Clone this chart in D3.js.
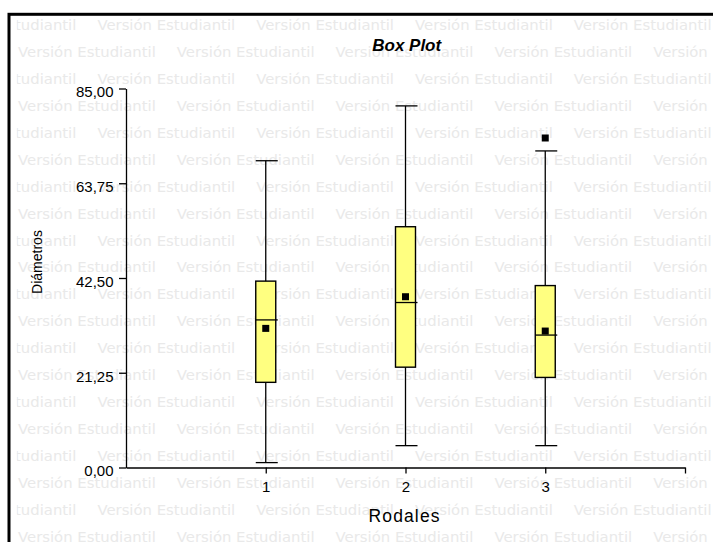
<!DOCTYPE html>
<html>
<head>
<meta charset="utf-8">
<script src="https://cdn.jsdelivr.net/npm/d3@7"></script>
<style>
  html, body { margin: 0; padding: 0; background: #fff; }
  svg { display: block; }
</style>
</head>
<body>
<svg id="chart" width="713" height="542"></svg>
<script>
// ---- data ----
const categories = ["1", "2", "3"];
const mins    = [1.1, 4.9, 4.9];
const q1s     = [19.1, 22.5, 20.2];
const medians = [33.1, 37.0, 29.7];
const q3s     = [41.8, 54.0, 40.8];
const maxs    = [68.8, 81.1, 71.0];
const means   = [31.2, 38.3, 30.6];
const outliers = [[], [], [73.9]];
const yTicks  = [0, 21.25, 42.5, 63.75, 85];
const title = "Box Plot";
const xLabel = "Rodales";
const yLabel = "Diámetros";
const watermark = "Versión Estudiantil";

// ---- drawing ----
const svg = d3.select("#chart");
const W = 713, H = 542;

// watermark (clipped to frame interior)
svg.append("clipPath").attr("id", "clipFrame")
  .append("rect").attr("x", 16.8).attr("y", 15.8).attr("width", W).attr("height", H);
const wm = svg.append("g").attr("clip-path", "url(#clipFrame)")
  .attr("font-family", "DejaVu Sans").attr("font-size", "14.85px").attr("fill", "#e9e9e9");
const period = 158.8;
for (let i = 0; i < 20; i++) {
  const base = 30 + 26.94 * i;
  const start = (i % 2 === 0) ? 18 - period / 2 : 18;
  for (let k = 0; k < 6; k++) {
    wm.append("text").attr("x", start + k * period).attr("y", base).text(watermark);
  }
}

// frame
svg.append("rect").attr("x", 9).attr("y", 14.3).attr("width", 900).attr("height", 800)
  .attr("fill", "none").attr("stroke", "#000").attr("stroke-width", 3);

const x = d3.scaleLinear().domain([0, 4]).range([126, 685]);
const y = d3.scaleLinear().domain([0, 85]).range([467.5, 88.5]);

// axes
const fmt = d => d3.format(".2f")(d).replace(".", ",");
const yAxis = svg.append("g").attr("transform", "translate(126,0)")
  .call(d3.axisLeft(y).tickValues(yTicks).tickSize(7).tickPadding(5.5).tickSizeOuter(0).tickFormat(fmt));
yAxis.selectAll("text").attr("dy", "0.55em");

const xAxis = svg.append("g").attr("transform", "translate(0,467.5)")
  .call(d3.axisBottom(x).tickValues([1, 2, 3, 4]).tickSize(6).tickPadding(8).tickSizeOuter(0)
    .tickFormat(d => d <= categories.length ? categories[d - 1] : ""));

[yAxis, xAxis].forEach(a => {
  a.attr("font-family", "Liberation Sans, Arial, sans-serif").attr("font-size", "15px");
  a.selectAll("text").attr("fill", "#000");
  a.selectAll("path, line").attr("stroke", "#000").attr("stroke-width", 1.3);
});

// boxes
const g = svg.append("g").attr("stroke", "#000");
categories.forEach((c, i) => {
  const cx = x(i + 1);
  // whisker
  g.append("line").attr("x1", cx).attr("x2", cx).attr("y1", y(mins[i])).attr("y2", y(maxs[i]))
    .attr("stroke-width", 1.3);
  g.append("line").attr("x1", cx - 10).attr("x2", cx + 12).attr("y1", y(maxs[i])).attr("y2", y(maxs[i]))
    .attr("stroke-width", 1.3);
  g.append("line").attr("x1", cx - 10).attr("x2", cx + 12).attr("y1", y(mins[i])).attr("y2", y(mins[i]))
    .attr("stroke-width", 1.3);
  // box
  g.append("rect").attr("x", cx - 10).attr("width", 20)
    .attr("y", y(q3s[i])).attr("height", y(q1s[i]) - y(q3s[i]))
    .attr("fill", "#ffff80").attr("stroke-width", 1.4);
  // median
  g.append("line").attr("x1", cx - 10).attr("x2", cx + 12).attr("y1", y(medians[i])).attr("y2", y(medians[i]))
    .attr("stroke-width", 1.3);
  // mean
  g.append("rect").attr("x", cx - 3.5).attr("y", y(means[i]) - 3.5).attr("width", 7).attr("height", 7)
    .attr("fill", "#000").attr("stroke", "none");
  // outliers
  outliers[i].forEach(o => {
    g.append("rect").attr("x", cx - 3.5).attr("y", y(o) - 3.5).attr("width", 7).attr("height", 7)
      .attr("fill", "#000").attr("stroke", "none");
  });
});

// titles
svg.append("text").attr("x", 406.7).attr("y", 50.7).attr("text-anchor", "middle")
  .attr("font-family", "Liberation Sans, Arial, sans-serif").attr("font-size", "17px")
  .attr("font-weight", "bold").attr("font-style", "italic").text(title);

svg.append("text").attr("x", 404).attr("y", 521.5).attr("text-anchor", "middle")
  .attr("font-family", "Liberation Sans, Arial, sans-serif").attr("font-size", "17.5px")
  .attr("textLength", 71).attr("lengthAdjust", "spacing")
  .text(xLabel);

svg.append("text").attr("transform", "translate(41.5,262) rotate(-90)").attr("text-anchor", "middle")
  .attr("font-family", "Liberation Sans, Arial, sans-serif").attr("font-size", "14px")
  .text(yLabel);
</script>
</body>
</html>
